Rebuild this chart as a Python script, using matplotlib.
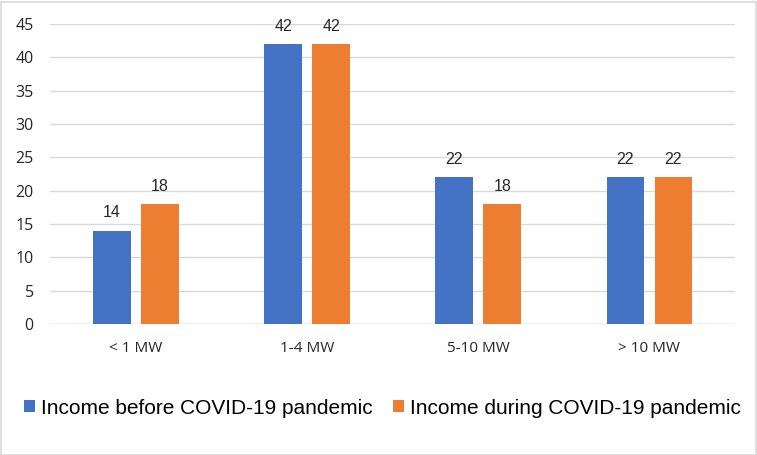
import numpy as np
import matplotlib.pyplot as plt
from matplotlib.patches import Rectangle

categories = ['< 1 MW', '1-4 MW', '5-10 MW', '> 10 MW']
before = [14, 42, 22, 22]
during = [18, 42, 18, 22]
series_names = ['Income before COVID-19 pandemic', 'Income during COVID-19 pandemic']

blue = '#4472C4'
orange = '#ED7D31'
txt = '#262626'

fig = plt.figure(figsize=(7.57, 4.55), dpi=100)
ax = fig.add_axes([50.3/757, 1-324/455, (735-50.3)/757, 300/455])

x = np.arange(len(categories))
w = 0.22
off = 0.14
b1 = ax.bar(x - off, before, w, color=blue, label=series_names[0], zorder=3)
b2 = ax.bar(x + off, during, w, color=orange, label=series_names[1], zorder=3)

for bars in (b1, b2):
    for r in bars:
        ax.annotate('%g' % r.get_height(), (r.get_x() + r.get_width()/2, r.get_height()),
                    xytext=(0, 9.5), textcoords='offset points', ha='center', va='baseline',
                    fontsize=11.5, family='Liberation Sans', color=txt)

ax.set_xlim(-0.5, 3.5)
ax.set_ylim(0, 45)
ax.set_yticks(range(0, 46, 5))
ax.set_xticks(x)
ax.set_xticklabels(categories, fontsize=11, family='Open Sans', color=txt)
for lab in ax.get_yticklabels():
    lab.set_fontsize(11.5)
    lab.set_family('Open Sans')
    lab.set_color(txt)
ax.tick_params(axis='y', length=0, pad=12)
ax.tick_params(axis='x', length=0, pad=12)
ax.yaxis.grid(True, color='#d9d9d9', lw=1, zorder=0)
for s in ax.spines.values():
    s.set_visible(False)
ax.axhline(0, color='#d9d9d9', lw=1, zorder=2)

fig.legend(handles=[b1, b2], labels=series_names, loc='center', bbox_to_anchor=(382.5/757, 1-408/455),
           ncol=2, frameon=False, handlelength=0.52, handleheight=0.52, handletextpad=0.29,
           columnspacing=1.0, prop={'family': 'Liberation Sans', 'size': 15})

fig.patches.append(Rectangle((0.5/757, 0.5/455), 1-2/757, 1-2/455, transform=fig.transFigure,
                             fill=False, edgecolor='#d9d9d9', lw=1.2))

fig.savefig('out.png', dpi=100)
